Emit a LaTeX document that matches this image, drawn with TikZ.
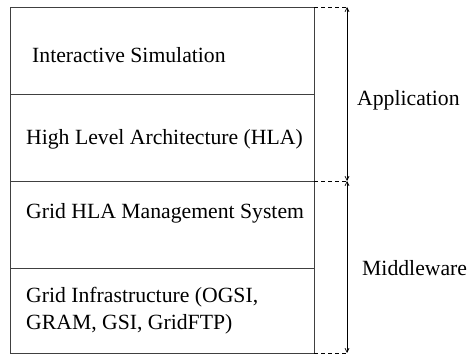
\documentclass[tikz,border=0pt]{standalone}
\usepackage{fontspec}
\setmainfont{Liberation Serif}
\usetikzlibrary{arrows.meta}
\begin{document}
\begin{tikzpicture}[x=1pt,y=-1pt,
  layer/.style={draw=black!75,line width=0.9pt},
  lbl/.style={anchor=west,inner sep=0pt,font=\fontsize{21.7}{27}\selectfont},
  guide/.style={dashed,line width=0.7pt,dash pattern=on 4pt off 3pt},
  span/.style={line width=0.7pt,{Straight Barb[length=4pt,width=4pt]}-{Straight Barb[length=4pt,width=4pt]}}]
\useasboundingbox (0,0) rectangle (469,355);
% stacked layers
\draw[layer] (10,7) rectangle (314,353);
\draw[layer] (10,94) -- (314,94);
\draw[layer] (10,181) -- (314,181);
\draw[layer] (10,268) -- (314,268);
% layer captions
\node[lbl] (sim) at (32,55) {Interactive Simulation};
\node[lbl] (hla) at (26,139) {High Level Architecture (HLA)};
\node[lbl] (ghms) at (26,213) {Grid HLA Management System};
\node[lbl,align=left] (infra) at (26,311) {Grid Infrastructure (OGSI,\\GRAM, GSI, GridFTP)};
% extent markers
\coordinate (t) at (347,7);
\coordinate (m) at (347,181);
\coordinate (b) at (347,353);
\draw[guide] (314,7) -- (t);
\draw[guide] (314,181) -- (m);
\draw[guide] (314,353) -- (b);
\draw[span] (t) -- (m);
\draw[span] (m) -- (b);
\node[lbl] (app) at (357,100) {Application};
\node[lbl] (mid) at (362,268) {Middleware};
\end{tikzpicture}
\end{document}
